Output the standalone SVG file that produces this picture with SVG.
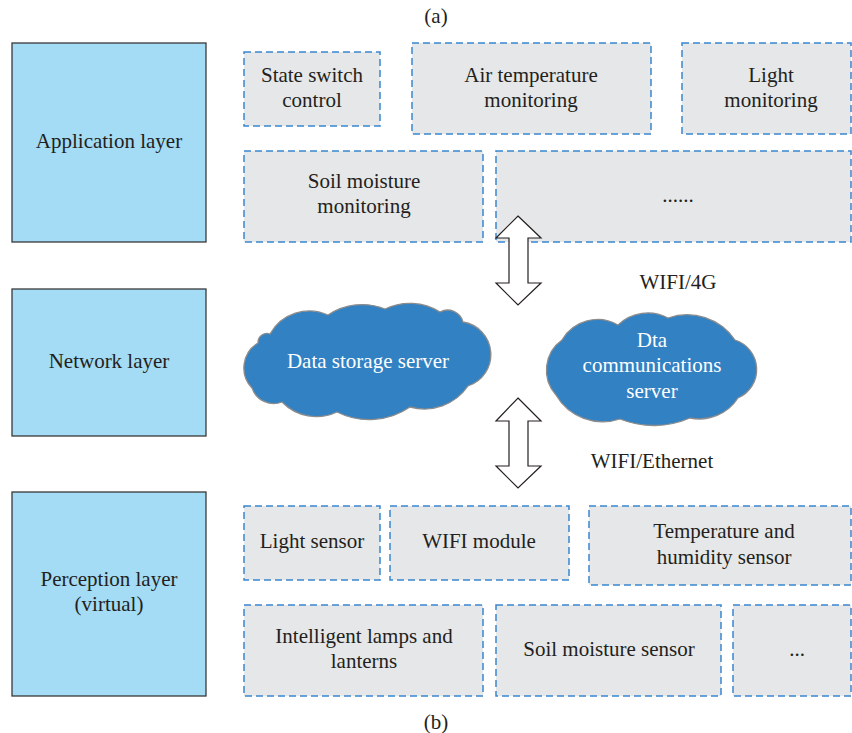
<svg xmlns="http://www.w3.org/2000/svg" width="852" height="733" viewBox="0 0 852 733">
<style>
text{font-family:"Liberation Serif","Times New Roman",serif;font-size:21px;fill:#231f20;text-anchor:middle}
.layer{fill:#a4dbf5;stroke:#3a3a3a;stroke-width:1.3}
.box{fill:#e6e7e8;stroke:#3a87cf;stroke-width:1.5;stroke-dasharray:7 4}
.cloud{fill:#3281c3;stroke:#8c8c8c;stroke-width:1.3}
.cloud-text{fill:#ffffff}
.arrow{fill:#ffffff;stroke:#231f20;stroke-width:1.2;stroke-linejoin:miter}
</style>
<rect width="852" height="733" fill="#ffffff"/>
<text x="436" y="23">(a)</text>
<text x="436" y="729">(b)</text>

<g id="application-layer"><rect class="layer" x="12" y="43" width="194" height="199"/><text x="109" y="148">Application layer</text></g>
<g id="network-layer"><rect class="layer" x="12" y="289" width="194" height="147"/><text x="109" y="368">Network layer</text></g>
<g id="perception-layer"><rect class="layer" x="12" y="492" width="194" height="204"/><text x="109" y="586">Perception layer</text><text x="109" y="611">(virtual)</text></g>

<g id="state-switch"><rect class="box" x="244" y="52" width="136" height="74"/><text x="312" y="82">State switch</text><text x="312" y="107">control</text></g>
<g id="air-temp"><rect class="box" x="412" y="43" width="239" height="91"/><text x="531" y="82">Air temperature</text><text x="531" y="107">monitoring</text></g>
<g id="light-mon"><rect class="box" x="682" y="43" width="169" height="91"/><text x="771" y="82">Light</text><text x="771" y="107">monitoring</text></g>
<g id="soil-mon"><rect class="box" x="244" y="151" width="239" height="91"/><text x="364" y="188">Soil moisture</text><text x="364" y="213">monitoring</text></g>
<g id="app-more"><rect class="box" x="496" y="151" width="355" height="91"/><text x="678" y="202">......</text></g>

<g id="data-storage"><path class="cloud" d="M252,388 A29,29 0 0 1 258,343 A9,9 0 0 1 270,334 A45,45 0 0 1 328,315 A61,61 0 0 1 385,309 A57,57 0 0 1 440,312 A16,16 0 0 1 463,322 A33,33 0 0 1 468,386 A53,53 0 0 1 410,407 A72,72 0 0 1 337,412 A48,48 0 0 1 282,402 A23,23 0 0 1 252,388 Z"/><text class="cloud-text" x="368" y="368">Data storage server</text></g>
<g id="data-comm"><path class="cloud" d="M556,395 A37,37 0 0 1 562,340 A41,41 0 0 1 618,325 A43,43 0 0 1 668,318 A58,58 0 0 1 735,340 A31,31 0 0 1 738,398 A46,46 0 0 1 690,418 A91,91 0 0 1 620,419 A54,54 0 0 1 556,395 Z"/><text class="cloud-text" x="652" y="347">Dta</text><text class="cloud-text" x="652" y="372">communications</text><text class="cloud-text" x="652" y="398">server</text></g>

<g id="light-sensor"><rect class="box" x="244" y="506" width="136" height="74"/><text x="312" y="548">Light sensor</text></g>
<g id="wifi-module"><rect class="box" x="390" y="506" width="179" height="74"/><text x="479" y="548">WIFI module</text></g>
<g id="temp-hum"><rect class="box" x="589" y="506" width="262" height="79"/><text x="724" y="538">Temperature and</text><text x="724" y="564">humidity sensor</text></g>
<g id="lamps"><rect class="box" x="244" y="605" width="239" height="91"/><text x="364" y="643">Intelligent lamps and</text><text x="364" y="668">lanterns</text></g>
<g id="soil-sensor"><rect class="box" x="496" y="605" width="225" height="91"/><text x="609" y="656">Soil moisture sensor</text></g>
<g id="perc-more"><rect class="box" x="733" y="605" width="118" height="91"/><text x="797" y="656">...</text></g>

<g id="connectors">
<polygon class="arrow" points="518,216 541,238 528,238 528,283 541,283 518,305 496,283 509,283 509,238 496,238"/>
<polygon class="arrow" points="518,398 541,421 528,421 528,466 541,466 518,488 496,466 509,466 509,421 496,421"/>
<text x="678" y="289">WIFI/4G</text>
<text x="652" y="468">WIFI/Ethernet</text>
</g>
</svg>
